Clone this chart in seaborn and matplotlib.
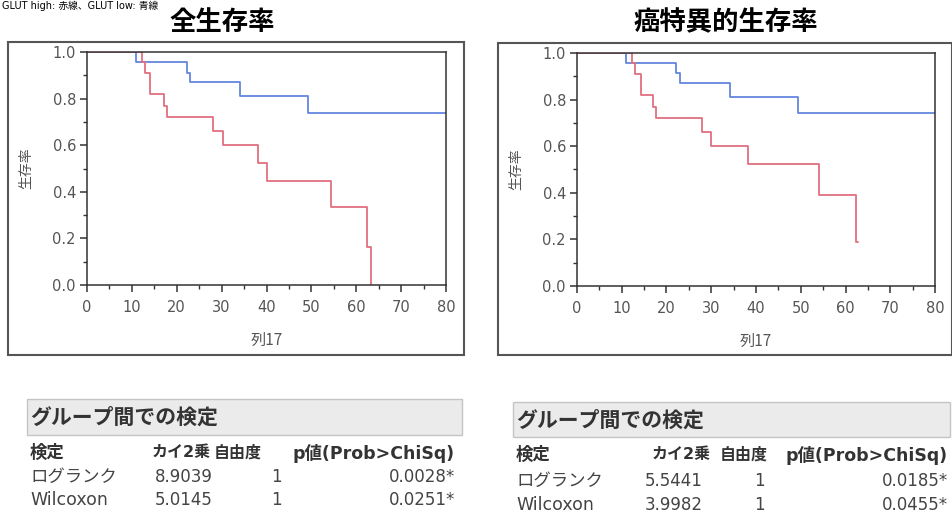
import seaborn as sns
import matplotlib
matplotlib.use("Agg")
import matplotlib.pyplot as plt
from matplotlib.patches import Rectangle
from matplotlib.ticker import MultipleLocator
import pandas as pd

# Kaplan-Meier steps (time, survival)
os_high_t = [0, 12.3, 13.0, 14.1, 17.2, 17.9, 28.1, 30.2, 38.1, 40.1, 54.3, 62.3, 63.2]
os_high_s = [1.0, 0.955, 0.91, 0.818, 0.77, 0.72, 0.66, 0.60, 0.523, 0.447, 0.335, 0.165, 0.0]
os_low_t = [0, 11.0, 22.3, 23.0, 34.2, 49.3, 80]
os_low_s = [1.0, 0.957, 0.911, 0.87, 0.81, 0.74, 0.74]

css_high_t = [0, 12.2, 13.0, 14.2, 17.0, 17.7, 28.0, 30.0, 38.3, 54.1, 62.3, 62.9]
css_high_s = [1.0, 0.955, 0.91, 0.818, 0.77, 0.72, 0.66, 0.60, 0.523, 0.39, 0.19, 0.19]
css_low_t = [0, 11.0, 22.1, 23.1, 34.3, 49.3, 80]
css_low_s = [1.0, 0.957, 0.914, 0.871, 0.811, 0.741, 0.741]

panel_titles = ["全生存率", "癌特異的生存率"]
test_cols = ["検定", "カイ2乗", "自由度", "p値(Prob>ChiSq)"]
test_names = ["ログランク", "Wilcoxon"]
os_chisq = ["8.9039", "5.0145"]
os_df = ["1", "1"]
os_p = ["0.0028*", "0.0251*"]
css_chisq = ["5.5441", "3.9982"]
css_df = ["1", "1"]
css_p = ["0.0185*", "0.0455*"]

RED = "#e2707f"
BLUE = "#6586de"
W, H = 953, 525

sns.set_style("ticks")
plt.rcParams["font.family"] = ["DejaVu Sans", "Noto Sans CJK JP"]
FAM = ["DejaVu Sans", "Noto Sans CJK JP"]
JFAM = ["Noto Sans CJK JP", "DejaVu Sans"]


def fx(x):
    return x / W


def fy(y):
    return 1 - y / H


def km_frame(t_high, s_high, t_low, s_low):
    a = pd.DataFrame({"time": t_high, "surv": s_high, "group": "high"})
    b = pd.DataFrame({"time": t_low, "surv": s_low, "group": "low"})
    return pd.concat([b, a], ignore_index=True)


fig = plt.figure(figsize=(W / 100, H / 100), dpi=100)
fig.patch.set_facecolor("white")

axes_px = [(87, 52, 446, 285), (577, 53, 935, 286)]
frames_px = [(8, 42, 464, 355), (498, 43, 952, 355)]
title_x = [222, 726]
data = [km_frame(os_high_t, os_high_s, os_low_t, os_low_s),
        km_frame(css_high_t, css_high_s, css_low_t, css_low_s)]

for i in range(2):
    x0, y0, x1, y1 = axes_px[i]
    ax = fig.add_axes([fx(x0), fy(y1), fx(x1) - fx(x0), fy(y0) - fy(y1)])
    sns.lineplot(ax=ax, data=data[i], x="time", y="surv", hue="group",
                 palette={"high": RED, "low": BLUE}, drawstyle="steps-post",
                 estimator=None, sort=False, legend=False, linewidth=1.3)
    ax.set_xlim(0, 80)
    ax.set_ylim(0, 1.0)
    ax.xaxis.set_major_locator(MultipleLocator(10))
    ax.xaxis.set_minor_locator(MultipleLocator(5))
    ax.yaxis.set_major_locator(MultipleLocator(0.2))
    ax.yaxis.set_minor_locator(MultipleLocator(0.1))
    ax.yaxis.set_major_formatter(matplotlib.ticker.FormatStrFormatter("%.1f"))
    ax.tick_params(which="major", direction="out", length=5, width=1.1,
                   color="#333333", labelsize=10.5, labelcolor="#555555", pad=3)
    ax.tick_params(axis="x", which="major", pad=6)
    ax.tick_params(which="minor", direction="out", length=3, width=1.0,
                   color="#333333")
    for sp in ax.spines.values():
        sp.set_visible(True)
        sp.set_color("#333333")
        sp.set_linewidth(1.1)
    ax.set_xlabel("列17", family=JFAM, fontsize=11, color="#555555")
    ax.set_ylabel("生存率", family=JFAM, fontsize=10, color="#555555")
    ax.xaxis.set_label_coords(0.5, -0.2)
    ax.yaxis.set_label_coords(-0.15, 0.5)

    fx0, fy0, fx1, fy1 = frames_px[i]
    fig.patches.append(Rectangle((fx(fx0), fy(fy1)), fx(fx1) - fx(fx0), fy(fy0) - fy(fy1),
                                 transform=fig.transFigure, fill=False,
                                 edgecolor="#555555", linewidth=1.5))
    fig.text(fx(title_x[i]), fy(23), panel_titles[i], family=JFAM, fontsize=19,
             fontweight="bold", ha="center", va="center", color="black")

# line of text at the very top
fig.text(fx(2), fy(0.5), "GLUT high: 赤線、GLUT low: 青線", family=FAM, fontsize=7,
         ha="left", va="top", color="black")

# tables
tables = [
    dict(box=(27, 399, 462, 435), left=30, hy=[417, 453, 477, 500],
         right=[211, 262, 455], vr=213, dfr=282, vals=(os_chisq, os_df, os_p)),
    dict(box=(513, 402, 950, 437), left=516, hy=[420, 455, 481, 505],
         right=[711, 768, 948], vr=703, dfr=765, vals=(css_chisq, css_df, css_p)),
]
for t in tables:
    bx0, by0, bx1, by1 = t["box"]
    fig.patches.append(Rectangle((fx(bx0), fy(by1)), fx(bx1) - fx(bx0), fy(by0) - fy(by1),
                                 transform=fig.transFigure, facecolor="#ebebeb",
                                 edgecolor="#c4c4c4", linewidth=1.0))
    hy = t["hy"]
    fig.text(fx(t["left"]), fy(hy[0]), "グループ間での検定", family=JFAM, fontsize=15,
             fontweight="bold", ha="left", va="center", color="#333333")
    fig.text(fx(t["left"]), fy(hy[1]), test_cols[0], family=JFAM, fontsize=12.5,
             fontweight="bold", ha="left", va="center", color="#333333")
    for j in range(3):
        fig.text(fx(t["right"][j]), fy(hy[1]), test_cols[j + 1], family=FAM,
                 fontsize=12.5 if j == 2 else 11.5, fontweight="bold",
                 ha="right", va="center", color="#333333")
    chisq, dfv, pv = t["vals"]
    for r in range(2):
        yy = fy(hy[2 + r])
        fig.text(fx(t["left"]), yy, test_names[r], family=JFAM if r == 0 else FAM,
                 fontsize=12.5, ha="left", va="center", color="#444444")
        fig.text(fx(t["vr"]), yy, chisq[r], family=FAM, fontsize=12,
                 ha="right", va="center", color="#444444")
        fig.text(fx(t["dfr"]), yy, dfv[r], family=FAM, fontsize=12,
                 ha="right", va="center", color="#444444")
        fig.text(fx(t["right"][2]), yy, pv[r], family=FAM, fontsize=12,
                 ha="right", va="center", color="#444444")

fig.savefig("out.png", dpi=100, facecolor="white")
